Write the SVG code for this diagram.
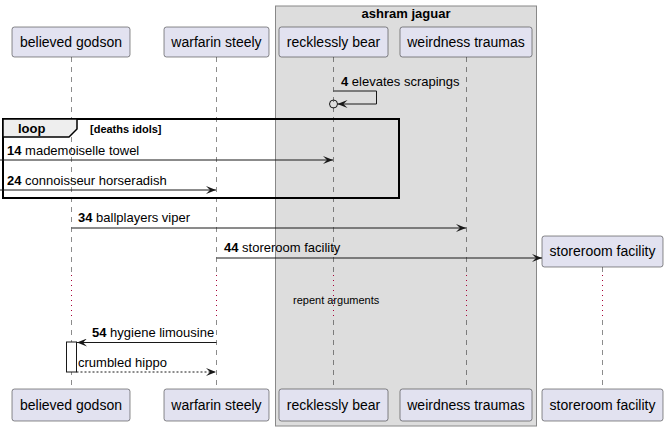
<svg xmlns="http://www.w3.org/2000/svg" width="668" height="431" viewBox="0 0 668 431">
<defs>
<style>
.p{fill:#E2E2F0;stroke:#181818;stroke-width:0.5}
.pt{font-family:"Liberation Sans",Arial,sans-serif;font-size:14px;fill:#000;text-anchor:middle}
.ll{stroke:#181818;stroke-width:0.5;stroke-dasharray:5,5;fill:none}
.dl{stroke:#A80036;stroke-width:1;stroke-dasharray:1,4;fill:none}
.m{stroke:#181818;stroke-width:1;fill:none}
.md{stroke:#181818;stroke-width:1;fill:none;stroke-dasharray:2,2}
.t{font-family:"Liberation Sans",Arial,sans-serif;font-size:13px;fill:#000}
.b{font-weight:bold}
</style>
<marker id="ah" viewBox="0 0 10 8" refX="10" refY="4" markerWidth="10" markerHeight="8" markerUnits="userSpaceOnUse" orient="auto">
<path d="M0,0 L10,4 L0,8 L4,4 Z" fill="#181818"/>
</marker>
</defs>
<rect x="275.5" y="6" width="261" height="420" fill="#DDDDDD" stroke="#888888" stroke-width="1"/>
<text x="406" y="18" class="t b" text-anchor="middle">ashram jaguar</text>
<g id="lifelines">
<path class="ll" d="M71.5,57 V272 M71.5,320 V389"/>
<path class="dl" d="M71.5,275 V318"/>
<path class="ll" d="M216.5,57 V272 M216.5,320 V389"/>
<path class="dl" d="M216.5,275 V318"/>
<path class="ll" d="M333.5,57 V272 M333.5,320 V389"/>
<path class="dl" d="M333.5,275 V318"/>
<path class="ll" d="M466.5,57 V272 M466.5,320 V389"/>
<path class="dl" d="M466.5,275 V318"/>
<path class="ll" d="M602.5,267 V272 M602.5,320 V389"/>
<path class="dl" d="M602.5,275 V318"/>
</g>
<g id="loop">
<rect x="3" y="119" width="396" height="79" fill="none" stroke="#000" stroke-width="2"/>
<path d="M3,119 H77 V129 L69,137 H3 Z" fill="#EEEEEE" stroke="#000" stroke-width="1.5"/>
<text x="18" y="133" class="t b">loop</text>
<text x="90" y="133" class="t b" style="font-size:11px">[deaths idols]</text>
</g>
<g id="p-godson"><rect class="p" x="12" y="27" width="118" height="30" rx="2.5"/><text class="pt" x="71" y="47">believed godson</text></g>
<g id="p-warfarin"><rect class="p" x="164" y="27" width="105" height="30" rx="2.5"/><text class="pt" x="216.5" y="47">warfarin steely</text></g>
<g id="p-recklessly"><rect class="p" x="279" y="27" width="109" height="30" rx="2.5"/><text class="pt" x="333.5" y="47">recklessly bear</text></g>
<g id="p-weirdness"><rect class="p" x="400" y="27" width="132" height="30" rx="2.5"/><text class="pt" x="466" y="47">weirdness traumas</text></g>
<g id="p-storeroom"><rect class="p" x="542" y="236" width="121" height="31" rx="2.5"/><text class="pt" x="602.5" y="256">storeroom facility</text></g>
<g id="p-godson-b"><rect class="p" x="12" y="389" width="118" height="32" rx="2.5"/><text class="pt" x="71" y="410">believed godson</text></g>
<g id="p-warfarin-b"><rect class="p" x="164" y="389" width="105" height="32" rx="2.5"/><text class="pt" x="216.5" y="410">warfarin steely</text></g>
<g id="p-recklessly-b"><rect class="p" x="279" y="389" width="109" height="32" rx="2.5"/><text class="pt" x="333.5" y="410">recklessly bear</text></g>
<g id="p-weirdness-b"><rect class="p" x="400" y="389" width="132" height="32" rx="2.5"/><text class="pt" x="466" y="410">weirdness traumas</text></g>
<g id="p-storeroom-b"><rect class="p" x="542" y="389" width="121" height="32" rx="2.5"/><text class="pt" x="602.5" y="410">storeroom facility</text></g>
<g id="activation"><rect x="66.5" y="342" width="10" height="30" fill="#FFFFFF" stroke="#181818" stroke-width="1"/></g>
<g id="connectors">
<path class="m" d="M333.5,91 H376.5 V104 H337.5" marker-end="url(#ah)"/>
<circle cx="333.5" cy="104" r="4" fill="none" stroke="#181818" stroke-width="1"/>
<line class="m" x1="0" y1="160" x2="333" y2="160" marker-end="url(#ah)"/>
<line class="m" x1="0" y1="190" x2="216" y2="190" marker-end="url(#ah)"/>
<line class="m" x1="71.5" y1="228" x2="466" y2="228" marker-end="url(#ah)"/>
<line class="m" x1="216.5" y1="258" x2="542" y2="258" marker-end="url(#ah)"/>
<line class="m" x1="216.5" y1="342.5" x2="77" y2="342.5" marker-end="url(#ah)"/>
<line class="md" x1="76.5" y1="372" x2="216" y2="372" marker-end="url(#ah)"/>
</g>
<g id="labels">
<text class="t" x="341" y="86"><tspan class="b">4</tspan> elevates scrapings</text>
<text class="t" x="7" y="155"><tspan class="b">14</tspan> mademoiselle towel</text>
<text class="t" x="7" y="185"><tspan class="b">24</tspan> connoisseur horseradish</text>
<text class="t" x="78" y="222"><tspan class="b">34</tspan> ballplayers viper</text>
<text class="t" x="224" y="252"><tspan class="b">44</tspan> storeroom facility</text>
<text class="t" x="293" y="304" style="font-size:11px">repent arguments</text>
<text class="t" x="92" y="337"><tspan class="b">54</tspan> hygiene limousine</text>
<text class="t" x="78" y="367">crumbled hippo</text>
</g>
</svg>
